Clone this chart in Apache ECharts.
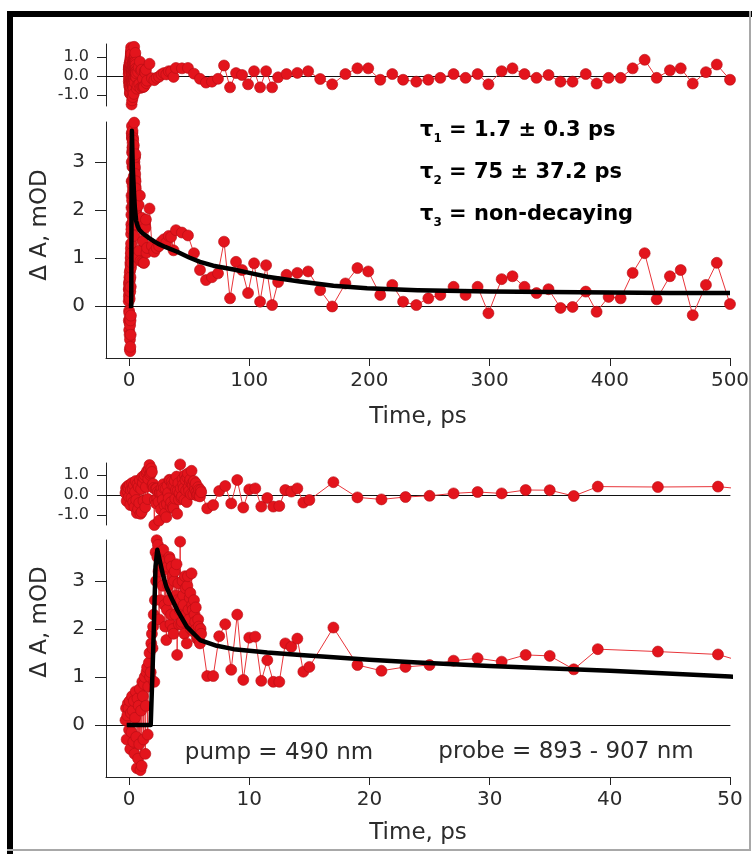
<!DOCTYPE html>
<html>
<head>
<meta charset="utf-8">
<title>Transient absorption kinetics</title>
<script src="https://cdn.jsdelivr.net/npm/echarts@6/dist/echarts.min.js"></script>
<style>
  html, body { margin: 0; padding: 0; background: #fff; }
  #chart { width: 756px; height: 854px; }
</style>
</head>
<body>
<div id="chart"></div>
<script>
// measured points, time in ps (same data set drawn in both panels)
const time = [
  -0.30, -0.25, -0.20, -0.15, -0.10, -0.05, 0.00, 0.05, 0.10, 0.15,
  0.20, 0.25, 0.30, 0.35, 0.40, 0.45, 0.50, 0.55, 0.60, 0.65,
  0.70, 0.75, 0.80, 0.85, 0.90, 0.95, 1.00, 1.05, 1.10, 1.15,
  1.20, 1.25, 1.30, 1.35, 1.40, 1.45, 1.50, 1.55, 1.60, 1.65,
  1.70, 1.75, 1.80, 1.85, 1.90, 1.95, 2.00, 2.05, 2.10, 2.15,
  2.20, 2.25, 2.30, 2.35, 2.40, 2.45, 2.50, 2.55, 2.60, 2.65,
  2.70, 2.75, 2.80, 2.85, 2.90, 2.95, 3.00, 3.05, 3.10, 3.15,
  3.20, 3.25, 3.30, 3.35, 3.40, 3.45, 3.50, 3.55, 3.60, 3.65,
  3.70, 3.75, 3.80, 3.85, 3.90, 3.95, 4.00, 4.05, 4.10, 4.15,
  4.20, 4.25, 4.30, 4.35, 4.40, 4.45, 4.50, 4.55, 4.60, 4.65,
  4.70, 4.75, 4.80, 4.85, 4.90, 4.95, 5.00, 5.05, 5.10, 5.15,
  5.20, 5.25, 5.30, 5.35, 5.40, 5.45, 5.50, 5.55, 5.60, 5.65,
  5.70, 5.75, 5.80, 5.85, 5.90, 5.95, 6.00,
  6.5, 7.0, 7.5, 8.0, 8.5, 9.0, 9.5, 10.0, 10.5, 11.0, 11.5, 12.0, 12.5, 13.0, 13.5, 14.0, 14.5, 15.0,
  17, 19, 21, 23, 25, 27, 29, 31, 33, 35, 37, 39, 44, 49,
  54, 59, 64, 69, 74, 79, 84, 89, 94, 99, 104, 109, 114, 119, 124,
  131, 140, 149, 159, 169, 180, 190, 199, 209, 219, 228, 239, 249, 259, 270, 280, 290, 299,
  310, 319, 329, 339, 349, 359, 369, 380, 389, 399, 409, 419, 429, 439, 450, 459, 469, 480, 489, 500
];
// ΔA, mOD
const dA = [
  0.1, 0.35, -0.3, 0.2, 0.45, 0.35, -0.1, 0.5, -0.5, 0.25,
  -0.15, 0.6, 0.3, -0.35, 0.5, -0.6, 0.15, 0.7, -0.25, -0.9,
  0.55, -0.7, 0.4, -0.4, 0.75, -0.94, 0.3, -0.85, 0.9, 0.6,
  -0.3, 0.85, 1.0, -0.6, 0.4, 1.1, 1.2, -0.2, 0.8, 1.3,
  1.5, 1.0, 1.1, 1.7, 1.9, 1.6, 2.05, 2.3, 0.9, 2.6,
  3.6, 3.0, 3.85, 3.5, 3.75, 3.2, 2.2, 3.55, 3.5, 2.6,
  3.6, 3.3, 2.9, 3.65, 3.4, 2.5, 2.05, 3.25, 1.77, 2.4,
  3.3, 2.9, 2.6, 3.5, 3.45, 2.1, 2.3, 3.3, 3.1, 2.0,
  1.9, 3.0, 3.2, 2.3, 2.7, 3.35, 1.46, 2.6, 2.95, 2.1,
  2.4, 3.82, 2.6, 2.1, 2.15, 3.0, 2.7, 2.5, 1.9, 3.1,
  2.85, 2.3, 1.7, 2.9, 3.1, 2.4, 2.2, 2.65, 2.75, 2.0,
  3.16, 2.5, 2.4, 1.95, 2.6, 2.3, 2.15, 2.45, 2.0, 1.8,
  1.85, 2.2, 2.05, 1.75, 1.7, 2.0, 1.9,
  1.02, 1.02, 1.85, 2.1, 1.15, 2.3, 0.94, 1.82, 1.84, 0.92, 1.35, 0.9, 0.9, 1.7, 1.63, 1.8, 1.11, 1.21,
  2.03, 1.25, 1.13, 1.21, 1.25, 1.34, 1.39, 1.32, 1.46, 1.44, 1.16, 1.58, 1.53, 1.47,
  1.1, 0.75, 0.54, 0.6, 0.68, 1.34, 0.16, 0.92, 0.75, 0.27, 0.89, 0.09, 0.85, 0.02, 0.5,
  0.65, 0.69, 0.72, 0.33, -0.01, 0.47, 0.79, 0.72, 0.23, 0.44, 0.09, 0.02, 0.16, 0.23, 0.4, 0.23, 0.4, -0.15,
  0.56, 0.62, 0.4, 0.27, 0.35, -0.04, -0.02, 0.3, -0.12, 0.19, 0.16, 0.69, 1.1, 0.14, 0.62, 0.75, -0.19, 0.44, 0.9, 0.04
];
// fit residuals
const resid = [
  0.1, 0.35, -0.3, 0.2, 0.45, 0.35, -0.1, 0.5, -0.5, 0.25,
  -0.15, 0.6, 0.3, -0.35, 0.5, -0.6, 0.15, 0.7, -0.25, -0.9,
  0.55, -0.7, 0.4, -0.4, 0.75, -0.94, 0.3, -0.85, 0.9, 0.6,
  -0.3, 0.85, 1.0, -0.6, 0.4, 1.1, 1.2, -0.2, 0.8, 1.3,
  1.5, 1.0, 1.1, 1.33, 1.15, 0.48, 0.55, 0.35, -1.5, -0.25,
  0.3, -0.42, 0.32, -0.15, 0.16, -0.34, -1.28, 0.12, 0.13, -0.72,
  0.34, 0.09, -0.25, 0.54, 0.34, -0.52, -0.92, 0.32, -1.11, -0.45,
  0.47, 0.1, -0.17, 0.76, 0.73, -0.59, -0.36, 0.67, 0.49, -0.58,
  -0.66, 0.47, 0.7, -0.18, 0.25, 0.92, -0.94, 0.22, 0.59, -0.23,
  0.09, 1.53, 0.33, -0.14, -0.07, 0.8, 0.52, 0.34, -0.24, 0.99,
  0.76, 0.23, -0.35, 0.87, 1.08, 0.39, 0.2, 0.67, 0.78, 0.04,
  1.21, 0.57, 0.48, 0.04, 0.7, 0.42, 0.28, 0.59, 0.15, -0.03,
  0.03, 0.39, 0.25, -0.03, -0.07, 0.24, 0.14,
  -0.67, -0.5, 0.2, 0.45, -0.42, 0.75, -0.63, 0.28, 0.33, -0.58, -0.15, -0.58, -0.55, 0.25, 0.17, 0.33, -0.38, -0.25,
  0.64, -0.12, -0.22, -0.1, -0.04, 0.08, 0.15, 0.08, 0.25, 0.24, -0.05, 0.42, 0.4, 0.42,
  0.12, -0.15, -0.35, -0.3, -0.15, 0.55, -0.6, 0.15, 0.05, -0.44, 0.25, -0.6, 0.25, -0.6, -0.07,
  0.1, 0.16, 0.25, -0.16, -0.44, 0.1, 0.4, 0.4, -0.2, 0.1, -0.2, -0.3, -0.2, -0.1, 0.1, -0.1, 0.1, -0.44,
  0.25, 0.4, 0.1, -0.1, 0.05, -0.3, -0.3, 0.1, -0.4, -0.1, -0.1, 0.4, 0.85, -0.1, 0.3, 0.4, -0.4, 0.2, 0.6, -0.2
];
// fitted curve
const fitTime = [-0.2, 1.8, 2.0, 2.2, 2.35, 2.6, 2.8, 3.1, 3.5, 4.0, 4.8, 5.9, 7.3, 8.7, 11.5, 14.25, 17, 20, 24, 30,
  40, 50, 59, 70, 87, 100, 115, 142, 170, 198, 240, 300, 350, 400, 450, 500];
const fitDA = [0, 0, 1.5, 3.3, 3.65, 3.37, 3.15, 2.88, 2.66, 2.4, 2.05, 1.77, 1.65, 1.58, 1.51, 1.46, 1.41, 1.36, 1.30, 1.23,
  1.13, 1.01, 0.92, 0.84, 0.76, 0.69, 0.61, 0.51, 0.42, 0.37, 0.33, 0.30, 0.29, 0.28, 0.27, 0.27];

const ticksLong = [0, 100, 200, 300, 400, 500];
const ticksShort = [0, 10, 20, 30, 40, 50];
const ticksMain = [0, 1, 2, 3];
const ticksResid = [-1, 0, 1];

const FONT = 'DejaVu Sans';
const INK = '#2b2b2b';
const RED = '#e3141c';

const pts = (xs, ys) => xs.map((x, i) => [x, ys[i]]);

// plain x axis that only draws a line at y = 0
const zeroAxis = (gridIndex, min, max) => ({
  type: 'value', gridIndex, min, max,
  axisLine: { show: true, onZero: true, lineStyle: { color: '#111', width: 1 } },
  axisTick: { show: false }, axisLabel: { show: false }, splitLine: { show: false }
});

const timeAxis = (gridIndex, min, max, ticks) => ({
  type: 'value', gridIndex, min, max, position: 'bottom',
  axisLine: { show: true, onZero: false, lineStyle: { color: '#222', width: 1 } },
  axisTick: { show: true, length: 8, customValues: ticks, lineStyle: { color: '#222' } },
  axisLabel: { customValues: ticks, fontSize: 20, margin: 13, color: INK, fontFamily: FONT },
  splitLine: { show: false }
});

const valAxis = (gridIndex, min, max, ticks, isResid) => ({
  type: 'value', gridIndex, min, max,
  axisLine: { show: true, onZero: false, lineStyle: { color: '#222', width: 1 } },
  axisTick: { show: true, length: isResid ? 9 : 11, customValues: ticks, lineStyle: { color: '#222' } },
  axisLabel: {
    customValues: ticks, fontSize: isResid ? 16 : 20, margin: isResid ? 17 : 21,
    color: INK, fontFamily: FONT,
    formatter: v => isResid ? v.toFixed(1) : String(v)
  },
  splitLine: { show: false }
});

const dataSeries = (xi, yi, ys) => ({
  type: 'line', xAxisIndex: xi, yAxisIndex: yi, z: 2,
  data: pts(time, ys),
  symbol: 'circle', symbolSize: 11,
  itemStyle: { color: RED, borderColor: '#b50e14', borderWidth: 0.6 },
  lineStyle: { color: '#e8353a', width: 1 },
  emphasis: { disabled: true }
});

const fitSeries = (xi, yi) => ({
  type: 'line', xAxisIndex: xi, yAxisIndex: yi, z: 3,
  data: pts(fitTime, fitDA),
  showSymbol: false, symbol: 'none',
  lineStyle: { color: '#000', width: 4.5, join: 'round' },
  emphasis: { disabled: true }
});

const tauRich = {
  a: { fontFamily: FONT, fontSize: 21, fontWeight: 'bold', color: '#1a1a1a' },
  s: { fontFamily: FONT, fontSize: 12, fontWeight: 'bold', color: '#1a1a1a', padding: [16, 0, 0, 0] }
};
const tauText = (y, sub, rest) => ({
  type: 'text', x: 420, y,
  style: {
    text: '{a|τ}{s|' + sub + '}{a|' + rest + '}', rich: tauRich,
    textAlign: 'left', textVerticalAlign: 'middle'
  }
});

const plainText = (x, y, text, size, extra) => ({
  type: 'text', x, y, ...(extra || {}),
  style: { text, fill: INK, font: size + 'px "' + FONT + '"', textAlign: 'center', textVerticalAlign: 'middle' }
});

const chart = echarts.init(document.getElementById('chart'), null, { renderer: 'canvas' });
chart.setOption({
  animation: false,
  backgroundColor: '#fff',
  textStyle: { fontFamily: FONT },
  grid: [
    { left: 106, right: 26, top: 44, height: 62 },
    { left: 106, right: 26, top: 122, height: 236 },
    { left: 106, right: 26, top: 463, height: 62 },
    { left: 106, right: 26, top: 540, height: 237 }
  ],
  xAxis: [
    zeroAxis(0, -19.2, 500),
    timeAxis(1, -19.2, 500, ticksLong),
    zeroAxis(1, -19.2, 500),
    zeroAxis(2, -1.92, 50),
    timeAxis(3, -1.92, 50, ticksShort),
    zeroAxis(3, -1.92, 50)
  ],
  yAxis: [
    valAxis(0, -1.58, 1.68, ticksResid, true),
    valAxis(1, -1.083, 3.833, ticksMain, false),
    valAxis(2, -1.5, 1.6, ticksResid, true),
    valAxis(3, -1.083, 3.854, ticksMain, false)
  ],
  series: [
    dataSeries(0, 0, resid),
    dataSeries(1, 1, dA),
    fitSeries(1, 1),
    dataSeries(3, 2, resid),
    dataSeries(4, 3, dA),
    fitSeries(4, 3)
  ],
  graphic: [
    // picture frame
    { type: 'rect', shape: { x: 7, y: 11, width: 745, height: 6 }, style: { fill: '#000' } },
    { type: 'rect', shape: { x: 7, y: 11, width: 6, height: 843 }, style: { fill: '#000' } },
    { type: 'rect', shape: { x: 749, y: 11, width: 2, height: 840 }, style: { fill: '#a8a8a8' } },
    { type: 'rect', shape: { x: 7, y: 849, width: 744, height: 2 }, style: { fill: '#a8a8a8' } },
    tauText(131, '1', ' = 1.7 ± 0.3 ps'),
    tauText(173, '2', ' = 75 ± 37.2 ps'),
    tauText(215, '3', ' = non-decaying'),
    plainText(418, 417, 'Time, ps', 23),
    plainText(418, 833, 'Time, ps', 23),
    plainText(40, 225, 'Δ A, mOD', 23, { rotation: Math.PI / 2 }),
    plainText(40, 622, 'Δ A, mOD', 23, { rotation: Math.PI / 2 }),
    plainText(279, 753, 'pump = 490 nm', 23),
    plainText(566, 752, 'probe = 893 - 907 nm', 23)
  ]
});
</script>
</body>
</html>
